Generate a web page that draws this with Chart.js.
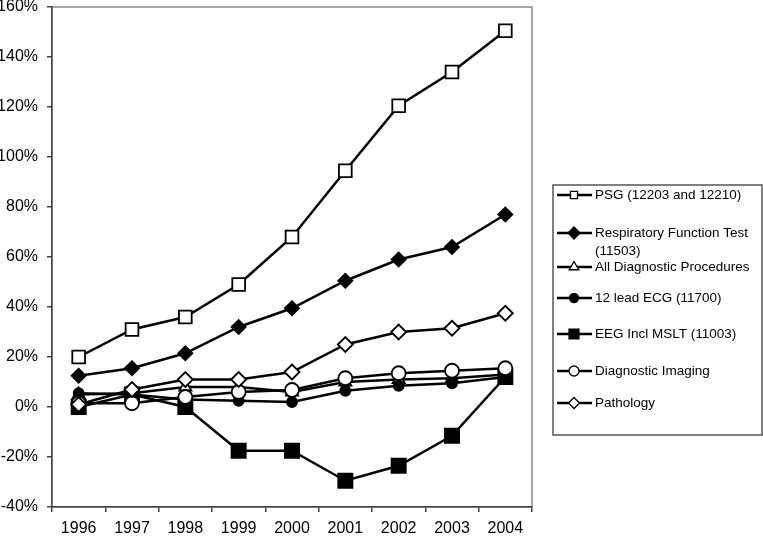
<!DOCTYPE html>
<html>
<head>
<meta charset="utf-8">
<script src="https://cdn.jsdelivr.net/npm/chart.js@4/dist/chart.umd.min.js"></script>
<style>
  html, body { margin: 0; padding: 0; background: #fff; }
  #wrap { width: 763px; height: 537px; }
</style>
</head>
<body>
<div id="wrap"><canvas id="chart" width="763" height="537"></canvas></div>
<script>
// years on the x axis
const years = ['1996', '1997', '1998', '1999', '2000', '2001', '2002', '2003', '2004'];

// % change per series
const psg        = [20, 31, 36, 49, 68, 94.5, 120.5, 134, 150.5];
const respiratory = [12.5, 15.5, 21.5, 32, 39.5, 50.5, 59, 64, 77];
const allDiag    = [5, 5.5, 8, 8, 6, 10, 11, 11.5, 13];
const ecg        = [5.5, 5, 3, 2.5, 2, 6.5, 8.5, 9.5, 12];
const eeg        = [0, 5, 0, -17.5, -17.5, -29.5, -23.5, -11.5, 12];
const imaging    = [1.5, 1.5, 4, 6, 6.8, 11.5, 13.5, 14.5, 15.5];
const pathology  = [1, 7, 11, 11, 14, 25, 30, 31.5, 37.5];

const legendLabels = [
    ['PSG (12203 and 12210)'],
    ['Respiratory Function Test', '(11503)'],
    ['All Diagnostic Procedures'],
    ['12 lead ECG (11700)'],
    ['EEG Incl MSLT (11003)'],
    ['Diagnostic Imaging'],
    ['Pathology']
];

const yTicks = { min: -40, max: 160, step: 20 };

const FONT = "'Liberation Sans', Arial, sans-serif";

function series(label, data, style, radius, filled, order) {
    return {
        label: label,
        data: data,
        borderColor: '#000',
        borderWidth: 2.5,
        tension: 0,
        pointStyle: style,
        pointRadius: radius,
        pointHoverRadius: radius,
        pointBackgroundColor: filled ? '#000' : '#fff',
        pointBorderColor: '#000',
        pointBorderWidth: 1.8,
        order: order,
        clip: false
    };
}

// legend drawn by hand so it can have the boxed, wrapped look
const legendBox = {
    id: 'legendBox',
    beforeDraw(chart) {
        const a = chart.chartArea;
        const ctx = chart.ctx;
        ctx.save();
        ctx.strokeStyle = '#8c8c8c';
        ctx.lineWidth = 1.5;
        ctx.strokeRect(a.left, a.top, a.right - a.left, a.bottom - a.top);
        ctx.restore();
    },
    afterDraw(chart) {
        const ctx = chart.ctx;
        const rows = [195, 233, 267, 298, 334, 371, 403];
        const sizes = [5, 6, 5.5, 4.5, 7, 5, 5.5];
        ctx.save();
        ctx.strokeStyle = '#555';
        ctx.lineWidth = 1.5;
        ctx.strokeRect(553, 185, 209, 250);

        chart.data.datasets.forEach((ds, i) => {
            const y = rows[i];
            ctx.strokeStyle = '#000';
            ctx.lineWidth = 2.5;
            ctx.beginPath();
            ctx.moveTo(557, y);
            ctx.lineTo(592, y);
            ctx.stroke();

            ctx.fillStyle = ds.pointBackgroundColor;
            ctx.lineWidth = 1.3;
            Chart.helpers.drawPoint(ctx, {
                pointStyle: ds.pointStyle,
                radius: sizes[i],
                rotation: 0,
                borderWidth: 1.3
            }, 574, y);

            ctx.fillStyle = '#000';
            ctx.font = '13.5px ' + FONT;
            ctx.textBaseline = 'middle';
            ctx.textAlign = 'left';
            legendLabels[i].forEach((t, k) => {
                ctx.fillText(t, 595, y + k * 18);
            });
        });
        ctx.restore();
    }
};

new Chart(document.getElementById('chart'), {
    type: 'line',
    data: {
        labels: years,
        datasets: [
            series(legendLabels[0].join(' '), psg, 'rect', 9, false, 6),
            series(legendLabels[1].join(' '), respiratory, 'rectRot', 7, true, 5),
            series(legendLabels[2].join(' '), allDiag, 'triangle', 7, false, 4),
            series(legendLabels[3].join(' '), ecg, 'circle', 5, true, 3),
            series(legendLabels[4].join(' '), eeg, 'rect', 10, true, 2),
            series(legendLabels[5].join(' '), imaging, 'circle', 7, false, 1),
            series(legendLabels[6].join(' '), pathology, 'rectRot', 7.5, false, 0)
        ]
    },
    options: {
        responsive: false,
        animation: false,
        devicePixelRatio: 1,
        layout: { autoPadding: false, padding: { top: 7, right: 231, left: 0, bottom: 0 } },
        plugins: {
            legend: { display: false },
            tooltip: { enabled: false }
        },
        scales: {
            x: {
                offset: true,
                grid: { offset: true, drawOnChartArea: false, tickLength: 5, color: '#444', lineWidth: 1.5 },
                border: { display: true, color: '#444', width: 1.5 },
                ticks: { color: '#000', font: { family: FONT, size: 16 }, padding: 7, maxRotation: 0 },
                afterFit: s => { s.height = 30; s.paddingLeft = 0; s.paddingRight = 0; }
            },
            y: {
                min: yTicks.min,
                max: yTicks.max,
                grid: { drawOnChartArea: false, tickLength: 5, color: '#444', lineWidth: 1.5 },
                border: { display: true, color: '#444', width: 1.5 },
                ticks: {
                    stepSize: yTicks.step,
                    color: '#000',
                    font: { family: FONT, size: 16 },
                    padding: 9,
                    callback: v => v + '%'
                },
                afterFit: s => { s.width = 52; s.paddingTop = 0; s.paddingBottom = 0; }
            }
        }
    },
    plugins: [legendBox]
});
</script>
</body>
</html>
